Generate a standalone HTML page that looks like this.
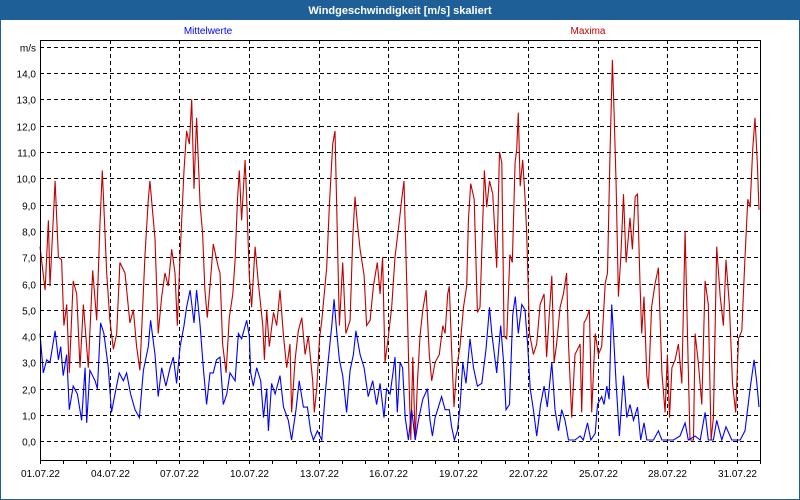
<!DOCTYPE html>
<html><head><meta charset="utf-8"><style>
html,body{margin:0;padding:0;background:#fff;}
#wrap{position:relative;width:800px;height:500px;overflow:hidden;font-family:"Liberation Sans",sans-serif;}
</style></head><body>
<div id="wrap">
<svg id="chart" width="800" height="500" xmlns="http://www.w3.org/2000/svg">
<rect x="0" y="0" width="800" height="500" fill="#ffffff"/>
<rect x="0" y="0" width="800" height="20" fill="#1f5f98"/>
<rect x="0.5" y="0.5" width="799" height="499" fill="none" stroke="#1f5f98"/>
<text x="400" y="14" text-anchor="middle" font-size="11" font-weight="bold" fill="#ffffff">Windgeschwindigkeit [m/s] skaliert</text>
<text x="208" y="34" text-anchor="middle" font-size="10" fill="#0000ff">Mittelwerte</text>
<text x="588" y="34" text-anchor="middle" font-size="10" fill="#c00000">Maxima</text>
<g id="grid"></g>
<g id="series"></g>
<g id="axes"></g>
</svg>
</div>
<script>
const yTicks=[0,1,2,3,4,5,6,7,8,9,10,11,12,13,14,15];
const yTickLabels=["0,0","1,0","2,0","3,0","4,0","5,0","6,0","7,0","8,0","9,0","10,0","11,0","12,0","13,0","14,0","m/s"];
const xTickDays=[0,3,6,9,12,15,18,21,24,27,30];
const xTickLabels=["01.07.22","04.07.22","07.07.22","10.07.22","13.07.22","16.07.22","19.07.22","22.07.22","25.07.22","28.07.22","31.07.22"];
const maxDays=[0,.22,.36,.43,.65,.79,.93,1.03,1.15,1.26,1.43,1.58,1.72,1.87,2.08,2.27,2.44,2.58,2.68,2.87,3.01,3.16,3.30,3.44,3.66,3.87,4.02,4.16,4.30,4.52,4.66,4.73,4.95,5.09,5.24,5.38,5.52,5.67,5.81,5.91,6.03,6.20,6.31,6.43,6.53,6.63,6.74,6.89,7.00,7.10,7.20,7.32,7.46,7.68,
7.75,7.86,8.01,8.15,8.30,8.40,8.50,8.58,8.68,8.83,8.90,9.01,9.11,9.26,9.40,9.59,9.66,9.76,9.87,10.05,10.19,10.33,10.48,10.62,10.76,10.83,10.98,11.12,11.27,11.41,11.55,11.74,11.81,11.91,12.03,12.13,12.34,12.46,12.60,12.70,12.80,12.89,13.03,13.17,13.35,13.46,13.56,13.66,13.78,13.95,14.06,14.21,14.35,14.52,14.64,14.75,14.85,15.00,15.14,15.28,15.47,
15.57,15.67,15.79,15.90,15.96,16.05,16.15,16.25,16.36,16.48,16.62,16.76,16.86,17.01,17.19,17.34,17.44,17.55,17.62,17.72,17.82,17.94,18.08,18.23,18.37,18.44,18.54,18.69,18.83,18.94,19.13,19.23,19.35,19.49,19.66,19.78,19.88,19.98,20.09,20.23,20.33,20.45,20.52,20.59,20.67,20.78,20.88,20.95,21.07,21.24,21.38,21.53,21.70,21.81,22.03,22.13,22.24,22.39,22.53,22.67,22.75,22.89,23.03,
23.25,23.32,23.42,23.54,23.65,23.75,23.90,24.04,24.18,24.33,24.43,24.54,24.64,24.71,24.80,24.90,25.00,25.12,25.23,25.33,25.40,25.50,25.62,25.72,25.83,25.90,26.00,26.12,26.19,26.33,26.48,26.62,26.77,26.91,27.01,27.10,27.20,27.34,27.48,27.63,27.77,27.87,27.98,28.13,28.20,28.34,28.49,28.63,28.77,28.89,28.99,29.13,29.28,29.42,29.53,29.68,29.81,29.95,30.07,30.21,30.35,30.47,30.57,30.68,30.78,30.88,30.95];
const maxVals=[7.4,5.75,8.4,5.9,9.9,7.0,6.9,4.4,5.2,2.6,6.1,5.6,2.8,5.2,2.8,6.5,4.6,8.2,10.3,6.4,4.6,3.5,4.1,6.8,6.4,4.5,5.0,3.6,2.7,7.1,9.2,9.9,7.7,4.1,5.5,6.4,5.9,7.3,6.4,4.4,7.1,10.3,11.8,11.3,13.0,9.6,12.3,9.0,7.9,5.75,4.7,5.9,7.5,6.6,
6.4,3.7,2.6,4.7,5.6,6.9,9.2,10.3,8.4,10.7,9.2,6.3,5.1,7.4,6.0,4.4,3.1,5.0,3.6,4.9,4.4,5.75,4.0,2.8,3.7,1.1,3.1,4.2,4.7,3.3,4.0,2.3,1.1,2.0,3.9,4.6,6.6,9.0,11.3,11.8,7.9,4.4,6.8,4.1,4.6,7.7,9.3,8.3,7.3,6.3,4.4,4.6,5.9,6.8,5.6,7.0,3.0,4.0,5.1,7.0,8.4,
9.2,9.9,5.9,1.8,0.05,3.2,0.05,2.3,4.0,5.0,5.75,3.3,2.3,3.0,3.3,4.4,4.1,5.6,5.9,3.5,1.3,2.8,3.6,5.1,5.9,8.4,9.8,9.2,4.9,5.1,10.3,8.9,9.9,9.4,6.6,11.0,10.6,4.0,3.9,7.1,6.8,10.6,11.1,12.5,9.7,10.7,9.3,7.9,4.1,3.3,3.7,5.2,5.6,3.2,6.3,3.0,3.7,5.1,5.6,6.4,3.7,0.9,3.3,
3.7,1.1,4.5,4.7,5.0,1.1,4.1,3.3,3.6,6.0,6.4,11.1,14.5,12.6,9.8,5.5,7.0,9.4,6.8,7.8,8.5,7.3,9.3,9.4,6.0,4.1,5.5,2.5,2.0,5.1,6.0,6.6,2.6,1.1,3.3,0.9,2.8,3.1,3.7,2.2,8.0,4.2,0.05,0.05,4.1,3.0,1.4,6.1,5.2,0.05,0.9,7.4,5.5,4.4,6.9,5.1,2.2,1.1,3.9,4.2,7.0,9.2,8.9,11.1,12.3,10.6,8.8];
const meanDays=[0,.14,.29,.43,.65,.79,.89,1.00,1.15,1.26,1.43,1.61,1.79,1.94,2.01,2.15,2.37,2.47,2.61,2.75,2.94,3.08,3.23,3.41,3.59,3.73,3.90,4.09,4.28,4.45,4.66,4.76,4.95,5.09,5.24,5.42,5.60,5.74,5.88,6.03,6.20,6.31,6.46,6.63,6.74,6.89,7.03,7.17,7.32,7.46,7.60,
7.75,7.89,8.04,8.18,8.40,8.54,8.68,8.90,9.01,9.07,9.18,9.33,9.50,9.62,9.76,9.83,9.97,10.12,10.33,10.48,10.69,10.83,11.02,11.16,11.34,11.51,11.65,11.77,11.94,12.13,12.27,12.41,12.56,12.66,12.77,12.89,13.03,13.20,13.35,13.49,13.60,13.78,13.95,14.13,14.32,14.49,14.64,14.81,14.92,15.07,15.21,15.28,15.38,
15.50,15.61,15.72,15.86,16.00,16.15,16.29,16.48,16.68,16.79,16.89,17.01,17.15,17.29,17.44,17.62,17.72,17.84,17.97,18.08,18.20,18.34,18.51,18.66,18.83,19.02,19.20,19.35,19.45,19.66,19.83,19.95,20.06,20.21,20.35,20.46,20.59,20.74,20.88,20.99,21.10,21.24,21.38,21.55,21.70,21.84,22.03,22.17,22.32,22.46,22.60,22.75,23.03,
23.25,23.39,23.57,23.71,23.90,24.00,24.18,24.28,24.40,24.50,24.61,24.68,24.80,24.94,25.12,25.26,25.40,25.55,25.72,25.86,26.00,26.12,26.41,26.62,26.77,27.27,27.55,27.77,27.91,28.20,28.42,28.63,28.77,28.99,29.13,29.35,29.53,29.78,30.14,30.35,30.57,30.74,30.85,30.95];
const meanVals=[4.1,2.6,3.1,3.0,4.2,3.1,3.6,2.5,3.3,1.2,2.1,1.8,0.8,2.8,0.7,2.7,2.3,2.0,4.5,4.1,2.8,1.1,1.8,2.6,2.3,2.6,1.8,1.2,0.9,2.7,3.6,4.6,3.3,1.7,2.8,2.1,2.8,3.2,2.2,3.6,4.4,5.1,5.75,4.5,5.75,4.4,2.8,1.4,2.6,2.6,3.1,
3.2,1.4,1.8,2.6,2.3,4.1,3.9,4.6,4.0,2.6,2.1,2.8,2.3,0.9,2.0,0.4,2.2,1.8,2.5,1.3,0.8,0.05,1.2,2.3,1.3,1.3,0.4,0.05,0.4,0.05,1.7,3.1,4.4,5.4,4.2,3.1,2.5,1.1,2.7,3.3,4.2,3.3,2.8,1.7,2.3,1.4,2.2,0.9,2.0,1.8,2.7,3.2,1.1,
3.0,2.8,0.9,0.05,1.2,0.05,0.8,1.6,2.0,0.8,0.2,0.9,1.3,1.7,1.2,1.2,0.55,0.05,0.4,1.3,3.0,2.2,3.9,2.8,2.1,2.2,3.5,5.1,4.1,2.6,4.4,3.1,1.2,1.4,4.8,5.5,4.1,5.2,5.0,3.7,2.0,1.2,0.2,1.4,2.1,1.3,3.0,1.2,0.4,1.2,0.8,0.05,0.05,
0.2,0.05,0.7,0.05,0.3,1.4,1.7,1.4,2.1,1.6,5.2,4.2,2.2,0.2,2.5,0.9,1.4,0.8,1.3,0.05,0.7,0.05,0.05,0.4,0.05,0.05,0.2,0.7,0.05,0.2,0.05,1.1,0.05,0.05,0.8,0.05,0.55,0.05,0.05,0.4,2.0,3.1,2.3,1.3];

const NS="http://www.w3.org/2000/svg";
const L=40,R=760,T=40,B=460;
function xs(d){return L+d*23.23;}
function ys(v){return 441.3-v*26.3;}
function mk(tag,attrs,parent){const e=document.createElementNS(NS,tag);for(const k in attrs)e.setAttribute(k,attrs[k]);parent.appendChild(e);return e;}
const grid=document.getElementById('grid'),axes=document.getElementById('axes'),series=document.getElementById('series');

yTicks.forEach((v,i)=>{
  const y=Math.round(ys(v))+0.5;
  const ln=mk('line',{x1:L,x2:R,y1:y,y2:y,stroke:'#000','stroke-dasharray':'4,3','stroke-width':1,'shape-rendering':'crispEdges'},grid);
  
  
  const t=mk('text',{x:36,y:y+4,'text-anchor':'end','font-size':10,fill:'#000'},axes);
  t.textContent=yTickLabels[i];
  
  
});
xTickDays.forEach((d,i)=>{
  const x=Math.round(xs(d))+0.5;
  if(d>0){
    const ln=mk('line',{x1:x,x2:x,y1:T,y2:B,stroke:'#000','stroke-dasharray':'4,3','stroke-width':1,'shape-rendering':'crispEdges'},grid);
    
    
  }
  const t=mk('text',{x:x,y:477,'text-anchor':'middle','font-size':10,fill:'#000'},axes);
  t.textContent=xTickLabels[i];
  
  
});
for(let d=0;d<=31;d++){
  const x=Math.round(xs(d))+0.5;
  const tk=mk('line',{x1:x,x2:x,y1:B,y2:B+4,stroke:'#000','shape-rendering':'crispEdges'},axes);
  
  
}
const frame=mk('rect',{x:L+0.5,y:T+0.5,width:R-L,height:B-T,fill:'none',stroke:'#000','shape-rendering':'crispEdges'},axes);



function line(days,vals,color,name){
  const pts=days.map((d,i)=>xs(d).toFixed(1)+','+ys(vals[i]).toFixed(1)).join(' ');
  const p=mk('polyline',{points:pts,fill:'none',stroke:color,'stroke-width':1.1,'stroke-linejoin':'miter'},series);
  
  
}
line(maxDays,maxVals,'#c00000','maxima-line');
line(meanDays,meanVals,'#0000ff','mittelwerte-line');
</script>
</body></html>
